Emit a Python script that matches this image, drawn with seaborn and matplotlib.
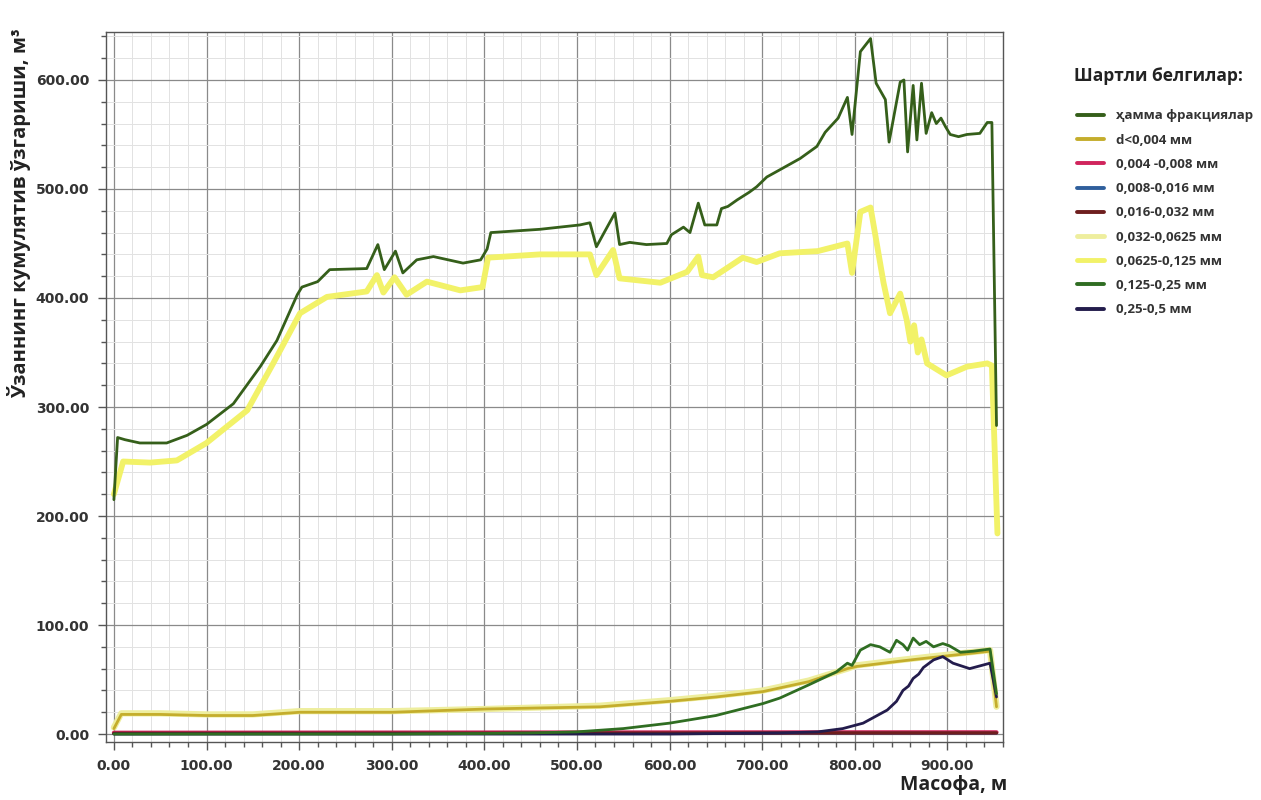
import matplotlib
matplotlib.use("Agg")
import matplotlib.pyplot as plt
import matplotlib.ticker as mticker
import seaborn as sns
import pandas as pd

# ---------------- data ----------------
x_all = [0, 4, 12, 28, 57, 79, 100, 129, 158, 176, 198, 203, 220, 233, 273, 285, 292, 304, 312, 327,
         345, 377, 396, 403, 407, 460, 503, 514, 521, 530, 541, 546, 557, 575, 597, 602, 615, 622, 631, 638,
         651, 656, 663, 673, 686, 694, 705, 722, 741, 759, 768, 782, 792, 797, 806, 817, 823, 833, 837, 849,
         853, 857, 863, 867, 872, 877, 883, 888, 893, 898, 903, 912, 921, 935, 943, 948, 953]
y_all = [215, 272, 270, 267, 267, 274, 284, 303, 337, 361, 403, 410, 415, 426, 427, 449, 426, 443, 423, 435,
         438, 432, 435, 445, 460, 463, 467, 469, 447, 461, 478, 449, 451, 449, 450, 458, 465, 460, 487, 467,
         467, 482, 484, 490, 497, 502, 511, 519, 528, 539, 552, 565, 584, 550, 626, 638, 597, 582, 543, 598,
         600, 534, 595, 545, 597, 551, 570, 560, 565, 557, 550, 548, 550, 551, 561, 561, 283]

x_f6 = [0, 10, 39, 68, 100, 144, 172, 201, 230, 273, 284, 291, 303, 316, 338, 374, 398, 404, 460, 514,
        521, 539, 546, 590, 619, 631, 635, 647, 679, 694, 719, 760, 792, 797, 806, 817, 831, 838, 849, 856,
        860, 864, 868, 872, 878, 899, 921, 943, 948, 954]
y_f6 = [220, 250, 249, 251, 267, 297, 340, 386, 401, 406, 421, 405, 419, 403, 415, 407, 410, 437, 440, 440,
        421, 444, 418, 414, 424, 438, 421, 419, 437, 433, 441, 443, 450, 423, 479, 483, 414, 386, 404, 380,
        360, 375, 350, 362, 340, 329, 337, 340, 338, 184]

x_f1 = [0, 8, 50, 100, 150, 201, 301, 403, 525, 600, 650, 701, 750, 792, 802, 850, 881, 946, 953]
y_f1 = [5, 18, 18, 17, 17, 20, 20, 23, 25, 30, 34, 39, 48, 60, 62, 67, 70, 76, 25]
y_f5 = [6, 19, 19, 18, 18, 21, 21, 23, 26, 31, 35, 40, 49, 60, 63, 68, 71, 77, 25]

x_f7 = [0, 100, 200, 300, 400, 450, 500, 550, 600, 650, 701, 719, 750, 780, 792, 797, 806, 817, 827, 838,
        845, 852, 857, 863, 870, 877, 885, 895, 902, 914, 928, 946, 953]
y_f7 = [0, 0, 0, 0, 0.5, 1, 2, 5, 10, 17, 28, 33, 45, 57, 65, 63, 77, 82, 80, 75,
        86, 82, 77, 88, 82, 85, 80, 83, 81, 75, 76, 78, 37]

x_f8 = [0, 200, 400, 600, 719, 760, 787, 809, 835, 845, 852, 858, 863, 869, 874, 885, 895, 906, 924, 946, 953]
y_f8 = [0, 0, 0, 0, 1, 2, 5, 10, 22, 30, 40, 44, 51, 55, 61, 68, 71, 65, 60, 65, 34]

x_low = [0, 200, 400, 600, 800, 953]
y_f2 = [1.2, 1.3, 1.4, 1.5, 1.6, 1.6]
y_f3 = [0.3, 0.4, 0.5, 0.6, 0.7, 0.7]
y_f4 = [0.6, 0.7, 0.8, 0.9, 1.0, 1.0]

labels = ["ҳамма фракциялар", "d<0,004 мм", "0,004 -0,008 мм", "0,008-0,016 мм", "0,016-0,032 мм",
          "0,032-0,0625 мм", "0,0625-0,125 мм", "0,125-0,25 мм", "0,25-0,5 мм"]
colors = ["#355f1a", "#c4ad2c", "#d0245c", "#2f5f9c", "#6e1e1e", "#eeee9e", "#f2f268", "#2f6d22", "#231c4c"]
widths = [2.0, 2.0, 3.0, 2.0, 2.4, 4.5, 4.2, 2.0, 2.0]

series = [(x_all, y_all), (x_f1, y_f1), (x_low, y_f2), (x_low, y_f3), (x_low, y_f4),
          (x_f1, y_f5), (x_f6, y_f6), (x_f7, y_f7), (x_f8, y_f8)]
zorders = [9, 6, 3.5, 4, 5, 3, 2, 8, 7]

# ---------------- plot ----------------
sns.set_theme(style="white")
plt.rcParams["font.family"] = ["Open Sans", "DejaVu Sans"]

fig = plt.figure(figsize=(12.61, 8.0), dpi=100)
ax = fig.add_axes([0.084, 0.0725, 0.7114, 0.8875])

handles = []
for (xs, ys), lab, col, lw, z in zip(series, labels, colors, widths, zorders):
    df = pd.DataFrame({"x": xs, "y": ys})
    sns.lineplot(data=df, x="x", y="y", ax=ax, color=col, linewidth=lw, sort=False,
                 estimator=None, zorder=z, legend=False)
    handles.append(plt.Line2D([], [], color=col, linewidth=2.8 if lw < 4 else 3.5))

ax.set_xlim(-8.6, 960)
ax.set_ylim(-7.3, 644)
ax.xaxis.set_major_locator(mticker.MultipleLocator(100))
ax.xaxis.set_minor_locator(mticker.MultipleLocator(20))
ax.yaxis.set_major_locator(mticker.MultipleLocator(100))
ax.yaxis.set_minor_locator(mticker.MultipleLocator(20))
fmt = mticker.FuncFormatter(lambda v, p: f"{v:.2f}")
ax.xaxis.set_major_formatter(fmt)
ax.yaxis.set_major_formatter(fmt)

ax.grid(which="major", color="#8a8a8a", linewidth=0.9)
ax.grid(which="minor", color="#e2e2e2", linewidth=0.7)
ax.set_axisbelow(True)
for s in ax.spines.values():
    s.set_color("#555555")
    s.set_linewidth(1.0)
ax.tick_params(which="major", direction="out", length=6, width=1, color="#555555",
               bottom=True, left=True, labelsize=10, labelcolor="#333333", pad=6)
ax.tick_params(which="minor", direction="out", length=3.5, width=1, color="#555555",
               bottom=True, left=True)
for lab in ax.get_xticklabels() + ax.get_yticklabels():
    lab.set_fontweight("bold")
    lab.set_family(["DejaVu Sans"])

ax.set_xlabel("Масофа, м", fontsize=14, fontweight="bold", color="#222222")
ax.xaxis.set_label_coords(1.005, -0.047)
ax.xaxis.label.set_horizontalalignment("right")
ax.set_ylabel("Ўзаннинг кумулятив ўзгариши, м³", fontsize=14.5, fontweight="bold", color="#222222")
ax.yaxis.set_label_coords(-0.083, 0.745)

fig.text(0.852, 0.905, "Шартли белгилар:", fontsize=12.5, fontweight="bold", color="#222222",
         ha="left", va="center")
leg = fig.legend(handles, labels, loc="upper left", bbox_to_anchor=(0.845, 0.878), frameon=False,
                 fontsize=9.5, labelspacing=0.85, handlelength=2.0, handletextpad=0.9)
for t in leg.get_texts():
    t.set_fontweight("bold")
    t.set_color("#333333")

fig.savefig("out.png", dpi=100)
